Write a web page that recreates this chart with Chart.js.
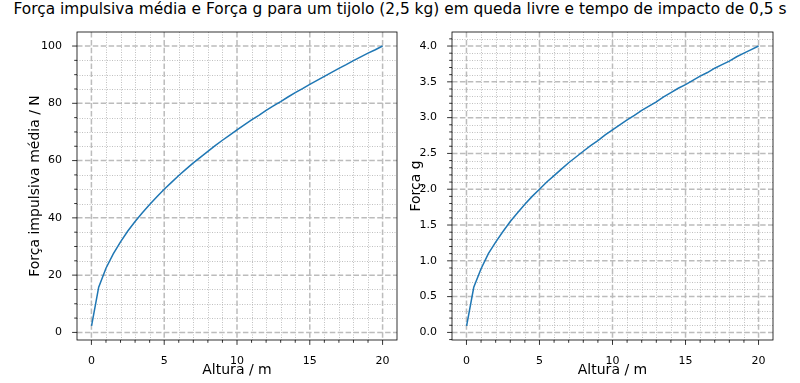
<!DOCTYPE html>
<html>
<head>
<meta charset="utf-8">
<script src="https://cdn.jsdelivr.net/npm/chart.js@4.4.1/dist/chart.umd.min.js"></script>
<style>
  body { margin: 0; background: #fff; }
  #wrap { position: relative; width: 800px; height: 383px; }
  #title { position: absolute; left: 0; top: 0; width: 800px; height: 28px; line-height: 28px; white-space: nowrap;
           text-align: center; font: 15.4px "DejaVu Sans"; color: #000; }
  canvas { position: absolute; top: 0; }
</style>
</head>
<body>
<div id="wrap">
  <div id="title">Força impulsiva média e Força g para um tijolo (2,5 kg) em queda livre e tempo de impacto de 0,5 s</div>
  <canvas id="c1" width="400" height="383" style="left:0"></canvas>
  <canvas id="c2" width="400" height="383" style="left:400px"></canvas>
</div>
<script>
// altura (m)
const alturas = [0.01, 0.5, 1, 1.5, 2, 2.5, 3, 3.5, 4, 4.5, 5, 5.5, 6, 6.5, 7, 7.5, 8, 8.5, 9, 9.5, 10,
  10.5, 11, 11.5, 12, 12.5, 13, 13.5, 14, 14.5, 15, 15.5, 16, 16.5, 17, 17.5, 18, 18.5, 19, 19.5, 20];
// força impulsiva média (N)
const forcaMedia = [2.3, 15.8, 22.4, 27.4, 31.6, 35.4, 38.7, 41.8, 44.7, 47.4, 50.0, 52.4, 54.8, 57.0, 59.2, 61.2,
  63.2, 65.2, 67.1, 68.9, 70.7, 72.5, 74.2, 75.8, 77.5, 79.1, 80.6, 82.2, 83.7, 85.1, 86.6,
  88.0, 89.4, 90.8, 92.2, 93.5, 94.9, 96.2, 97.5, 98.7, 100.0];
// força g
const forcaG = [0.09, 0.63, 0.89, 1.10, 1.26, 1.41, 1.55, 1.67, 1.79, 1.90, 2.00, 2.10, 2.19, 2.28, 2.37, 2.45,
  2.53, 2.61, 2.68, 2.76, 2.83, 2.90, 2.97, 3.03, 3.10, 3.16, 3.22, 3.29, 3.35, 3.41, 3.46,
  3.52, 3.58, 3.63, 3.69, 3.74, 3.79, 3.85, 3.90, 3.95, 4.00];

const xTicks = [0, 5, 10, 15, 20];
const xMinor = [1, 2, 3, 4, 6, 7, 8, 9, 11, 12, 13, 14, 16, 17, 18, 19];
const y1Ticks = [0, 20, 40, 60, 80, 100];
const y1Minor = [5, 10, 15, 25, 30, 35, 45, 50, 55, 65, 70, 75, 85, 90, 95];
const y2Ticks = [0, 0.5, 1, 1.5, 2, 2.5, 3, 3.5, 4];
const y2Minor = [-0.1, 0.1, 0.2, 0.3, 0.4, 0.6, 0.7, 0.8, 0.9, 1.1, 1.2, 1.3, 1.4, 1.6, 1.7, 1.8, 1.9,
  2.1, 2.2, 2.3, 2.4, 2.6, 2.7, 2.8, 2.9, 3.1, 3.2, 3.3, 3.4, 3.6, 3.7, 3.8, 3.9, 4.1];

Chart.defaults.font.family = "DejaVu Sans";
Chart.defaults.color = "#000";

// grid, ticks and spines drawn like matplotlib
const mplAxes = {
  id: "mplAxes",
  beforeDatasetsDraw(chart, args, o) {
    const { ctx, chartArea: a, scales: { x, y } } = chart;
    ctx.save();
    ctx.beginPath();
    ctx.rect(a.left, a.top, a.right - a.left, a.bottom - a.top);
    ctx.clip();
    // minor grid
    ctx.strokeStyle = "#b0b0b0";
    ctx.lineWidth = 0.8;
    ctx.setLineDash([1, 1.5]);
    ctx.beginPath();
    o.xMinor.forEach(v => { const p = Math.round(x.getPixelForValue(v)) + 0.5; ctx.moveTo(p, a.top); ctx.lineTo(p, a.bottom); });
    o.yMinor.forEach(v => { const p = Math.round(y.getPixelForValue(v)) + 0.5; ctx.moveTo(a.left, p); ctx.lineTo(a.right, p); });
    ctx.stroke();
    // major grid
    ctx.strokeStyle = "#bcbcbc";
    ctx.lineWidth = 1.5;
    ctx.setLineDash([5.5, 2.4]);
    ctx.beginPath();
    o.xMajor.forEach(v => { const p = x.getPixelForValue(v); ctx.moveTo(p, a.top); ctx.lineTo(p, a.bottom); });
    o.yMajor.forEach(v => { const p = y.getPixelForValue(v); ctx.moveTo(a.left, p); ctx.lineTo(a.right, p); });
    ctx.stroke();
    ctx.restore();
  },
  afterDraw(chart, args, o) {
    const { ctx, chartArea: a, scales: { x, y } } = chart;
    ctx.save();
    ctx.strokeStyle = "#000";
    ctx.lineWidth = 0.8;
    ctx.beginPath();
    o.xMajor.forEach(v => { const p = x.getPixelForValue(v); ctx.moveTo(p, a.bottom); ctx.lineTo(p, a.bottom + 4.9); });
    o.xMinor.forEach(v => { const p = x.getPixelForValue(v); ctx.moveTo(p, a.bottom); ctx.lineTo(p, a.bottom + 2.8); });
    o.yMajor.forEach(v => { const p = y.getPixelForValue(v); ctx.moveTo(a.left, p); ctx.lineTo(a.left - 4.9, p); });
    o.yMinor.forEach(v => {
      const p = y.getPixelForValue(v);
      if (p >= a.top && p <= a.bottom) { ctx.moveTo(a.left, p); ctx.lineTo(a.left - 2.8, p); }
    });
    ctx.stroke();
    ctx.strokeRect(a.left, a.top, a.right - a.left, a.bottom - a.top);
    ctx.restore();
  }
};

const makeChart = (id, ys, setup) => {
  const points = alturas.map((h, i) => ({ x: h, y: ys[i] }));
  return new Chart(document.getElementById(id), {
    type: "line",
    data: {
      datasets: [{
        data: points,
        borderColor: "#1f77b4",
        borderWidth: 1.5,
        pointRadius: 0,
        fill: false,
        tension: 0
      }]
    },
    plugins: [mplAxes],
    options: {
      responsive: false,
      animation: false,
      layout: { padding: { left: 0, right: setup.padRight, top: 32, bottom: 0 } },
      plugins: {
        legend: { display: false },
        tooltip: { enabled: false },
        mplAxes: { xMajor: xTicks, xMinor: xMinor, yMajor: setup.yMajor, yMinor: setup.yMinor }
      },
      scales: {
        x: {
          type: "linear",
          min: -0.99,
          max: 20.99,
          afterBuildTicks: s => { s.ticks = xTicks.map(v => ({ value: v })); },
          afterFit: s => { s.height = 43; },
          grid: { display: false },
          border: { display: false },
          ticks: { font: { size: 11 }, padding: 7, maxRotation: 0, callback: v => String(v) },
          title: { display: true, text: "Altura / m", font: { size: 14 }, padding: { top: 0, bottom: 4.5 } }
        },
        y: {
          type: "linear",
          min: setup.yMin,
          max: setup.yMax,
          afterBuildTicks: s => { s.ticks = setup.yMajor.map(v => ({ value: v })); },
          afterFit: s => { s.width = setup.yWidth; },
          grid: { display: false },
          border: { display: false },
          ticks: { font: { size: 11 }, padding: 7, callback: setup.fmt },
          title: { display: true, text: setup.label, font: { size: 14 }, padding: { top: setup.titlePad, bottom: 0 } }
        }
      }
    }
  });
};

makeChart("c1", forcaMedia, {
  yMin: -2.65, yMax: 104.9, yMajor: y1Ticks, yMinor: y1Minor,
  yWidth: 77, padRight: 3, titlePad: 26.5,
  label: "Força impulsiva média / N", fmt: v => String(v)
});

makeChart("c2", forcaG, {
  yMin: -0.106, yMax: 4.196, yMajor: y2Ticks, yMinor: y2Minor,
  yWidth: 52, padRight: 27, titlePad: 7.5,
  label: "Força g", fmt: v => v.toFixed(1)
});
</script>
</body>
</html>
